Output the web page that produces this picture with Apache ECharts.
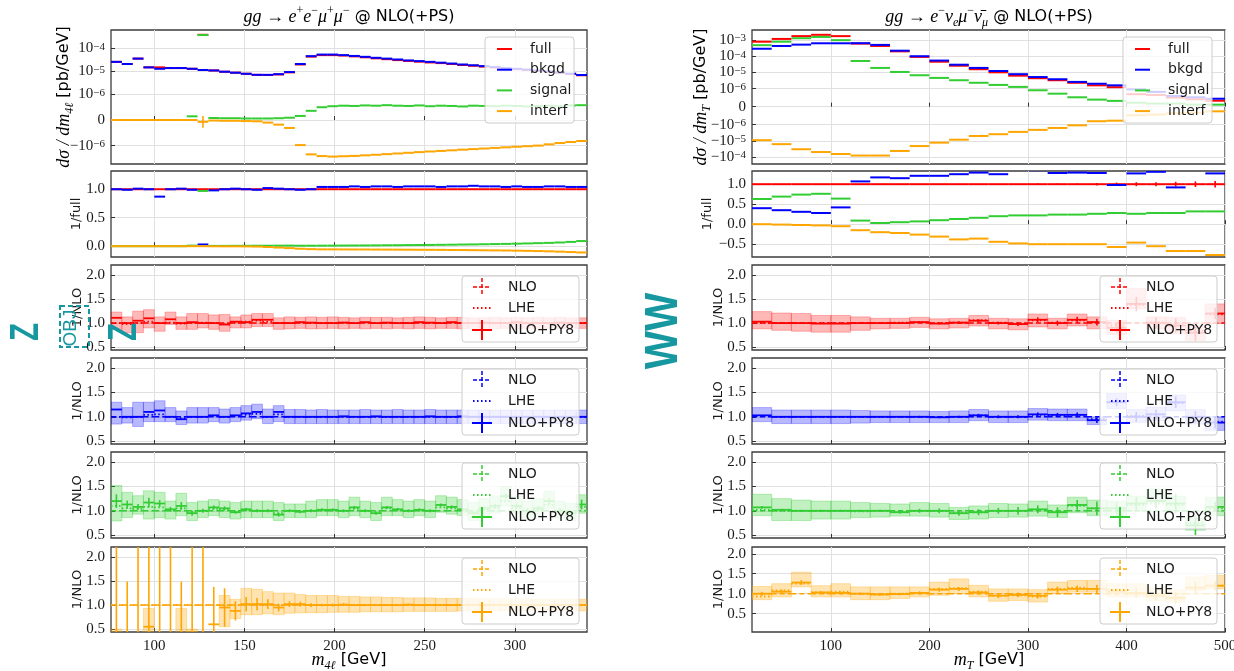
<!DOCTYPE html>
<html>
<head>
<meta charset="utf-8">
<title>gg NLO(+PS) distributions</title>
<script src="https://cdn.jsdelivr.net/npm/echarts@6/dist/echarts.min.js"></script>
<style>
html, body { margin: 0; padding: 0; background: #fff; }
#chart { width: 1234px; height: 671px; }
</style>
</head>
<body>
<div id="chart"></div>
<script>
// ---------------- data: ZZ (left column), 6 GeV bins in m_4l ----------------
const zzEdges = [76, 82, 88, 94, 100, 106, 112, 118, 124, 130, 136, 142, 148, 154, 160, 166, 172, 178, 184, 190, 196, 202, 208,
  214, 220, 226, 232, 238, 244, 250, 256, 262, 268, 274, 280, 286, 292, 298, 304, 310, 316, 322, 328, 334, 340];
const zzXTicks = [100, 150, 200, 250, 300];
const zzYTicks = [1e-4, 1e-5, 1e-6, 0, -1e-6];

const zzFull = [2.6e-5, 2.1e-5, 3.6e-5, 1.5e-5, 1.5e-5, 1.4e-5, 1.4e-5, 1.3e-5, 3.9e-4, 1.1e-5, 9.7e-6,
  8.8e-6, 7.9e-6, 7.1e-6, 7.0e-6, 7.4e-6, 9.1e-6, 2.0e-5, 4.4e-5, 5.1e-5, 5.1e-5, 4.9e-5,
  4.5e-5, 4.1e-5, 3.7e-5, 3.4e-5, 3.1e-5, 2.85e-5, 2.65e-5, 2.45e-5, 2.3e-5, 2.1e-5, 1.9e-5,
  1.76e-5, 1.62e-5, 1.47e-5, 1.33e-5, 1.24e-5, 1.15e-5, 1.05e-5, 9.6e-6, 8.6e-6, 7.7e-6, 6.8e-6];
const zzBkgd = [2.6e-5, 2.1e-5, 3.6e-5, 1.5e-5, 1.3e-5, 1.4e-5, 1.4e-5, 1.3e-5, 1.15e-5, 1.1e-5, 9.7e-6,
  8.8e-6, 7.9e-6, 7.1e-6, 7.1e-6, 7.6e-6, 9.4e-6, 2.1e-5, 4.6e-5, 5.4e-5, 5.4e-5, 5.1e-5,
  4.7e-5, 4.3e-5, 3.9e-5, 3.6e-5, 3.3e-5, 3.0e-5, 2.8e-5, 2.6e-5, 2.4e-5, 2.2e-5, 2.0e-5,
  1.85e-5, 1.7e-5, 1.55e-5, 1.4e-5, 1.3e-5, 1.2e-5, 1.1e-5, 1.0e-5, 9.0e-6, 8.0e-6, 7.0e-6];
const zzSignal = [0, 0, 0, 0, 0, 0, 0, 1.45e-7, 3.8e-4, 8e-8, 7e-8,
  7e-8, 6e-8, 6e-8, 6e-8, 7e-8, 9e-8, 1.6e-7, 3.6e-7, 5.0e-7, 5.4e-7, 5.6e-7,
  5.5e-7, 5.7e-7, 5.6e-7, 5.8e-7, 5.6e-7, 5.5e-7, 5.7e-7, 5.4e-7, 5.6e-7, 5.5e-7, 5.3e-7,
  5.6e-7, 5.5e-7, 5.4e-7, 5.6e-7, 5.5e-7, 5.3e-7, 5.5e-7, 5.6e-7, 5.4e-7, 5.7e-7, 5.8e-7];
const zzInterf = [0, 0, 0, 0, 0, 0, 0, 0, -7e-8, -2e-8, -3e-8,
  -3e-8, -4e-8, -5e-8, -1.0e-7, -1.8e-7, -3.1e-7, -9.8e-7, -2.4e-6, -2.85e-6, -3.0e-6, -2.9e-6,
  -2.8e-6, -2.65e-6, -2.5e-6, -2.35e-6, -2.2e-6, -2.05e-6, -1.92e-6, -1.8e-6, -1.7e-6, -1.6e-6, -1.5e-6,
  -1.42e-6, -1.34e-6, -1.26e-6, -1.19e-6, -1.12e-6, -1.06e-6, -1.0e-6, -0.95e-6, -0.9e-6, -0.86e-6, -0.82e-6];
const zzInterfErr = [0, 0, 0, 0, 0, 0, 0, 0, 2.3e-7, 0, 0,
  0, 0, 0, 0, 0, 0, 0, 0, 0, 0, 0,
  0, 0, 0, 0, 0, 0, 0, 0, 0, 0, 0,
  0, 0, 0, 0, 0, 0, 0, 0, 0, 0, 0];

// ratios to full
const zzOnes = [1, 1, 1, 1, 1, 1, 1, 1, 1, 1, 1,
  1, 1, 1, 1, 1, 1, 1, 1, 1, 1, 1,
  1, 1, 1, 1, 1, 1, 1, 1, 1, 1, 1,
  1, 1, 1, 1, 1, 1, 1, 1, 1, 1, 1];
const zzRBkgd = [1.00, 0.99, 1.01, 1.00, 0.87, 1.00, 1.01, 0.99, 0.03, 0.98, 1.00,
  1.01, 1.00, 0.99, 1.02, 1.01, 1.00, 0.99, 1.00, 1.04, 1.04, 1.04,
  1.05, 1.04, 1.05, 1.05, 1.04, 1.05, 1.05, 1.05, 1.04, 1.05, 1.05,
  1.06, 1.05, 1.05, 1.04, 1.05, 1.04, 1.04, 1.05, 1.05, 1.04, 1.04];
const zzRSignal = [0, 0, 0, 0, 0, 0, 0, 0.01, 0.97, 0.005, 0.005,
  0.006, 0.007, 0.008, 0.008, 0.009, 0.01, 0.008, 0.008, 0.009, 0.01, 0.011,
  0.012, 0.013, 0.014, 0.016, 0.017, 0.019, 0.02, 0.022, 0.024, 0.026, 0.029,
  0.031, 0.034, 0.037, 0.04, 0.044, 0.048, 0.053, 0.058, 0.065, 0.075, 0.09];
const zzRInterf = [0, 0, 0, 0, 0, 0, 0, 0, 0, -0.002, -0.003,
  -0.003, -0.004, -0.007, -0.014, -0.024, -0.034, -0.045, -0.052, -0.056, -0.056, -0.057,
  -0.058, -0.058, -0.059, -0.06, -0.061, -0.062, -0.063, -0.064, -0.065, -0.067, -0.068,
  -0.07, -0.072, -0.074, -0.076, -0.079, -0.082, -0.086, -0.09, -0.096, -0.103, -0.11];

// ratios to NLO: full
const zzRedPy8 = [1.11, 1.0, 1.05, 1.1, 1.0, 1.08, 1.0, 1.02, 1.0, 1.0, 0.97,
  1.03, 1.02, 1.07, 1.07, 1.0, 1.0, 1.02, 1.01, 1.0, 1.0, 1.01,
  1.0, 1.02, 1.0, 1.01, 1.0, 1.0, 1.02, 1.01, 1.0, 1.02, 1.0,
  1.0, 1.01, 1.0, 1.0, 1.02, 1.0, 1.0, 1.0, 1.01, 1.0, 1.0];
const zzRedHi = [1.23, 1.13, 1.25, 1.28, 1.13, 1.23, 1.13, 1.2, 1.2, 1.17, 1.18,
  1.13, 1.17, 1.2, 1.2, 1.11, 1.13, 1.12, 1.13, 1.12, 1.13, 1.12,
  1.11, 1.12, 1.12, 1.12, 1.11, 1.12, 1.13, 1.12, 1.11, 1.12, 1.12,
  1.11, 1.11, 1.12, 1.11, 1.12, 1.11, 1.12, 1.11, 1.12, 1.11, 1.11];
const zzRedLo = [0.87, 0.8, 0.8, 0.9, 0.83, 0.97, 0.87, 0.87, 0.9, 0.87, 0.83,
  0.9, 0.9, 0.93, 0.93, 0.87, 0.88, 0.89, 0.88, 0.88, 0.89, 0.88,
  0.89, 0.88, 0.89, 0.88, 0.89, 0.88, 0.89, 0.88, 0.89, 0.89, 0.88,
  0.89, 0.89, 0.88, 0.89, 0.88, 0.89, 0.88, 0.89, 0.88, 0.89, 0.89];
const zzRedLhe = [1.0, 0.98, 1.0, 1.03, 1.0, 1.01, 0.99, 1.0, 1.01, 1.0, 0.98,
  1.01, 1.03, 1.05, 1.03, 1.0, 1.0, 1.01, 1.0, 1.0, 1.0, 1.01,
  1.0, 1.01, 1.0, 1.0, 1.0, 1.0, 1.01, 1.0, 1.0, 1.01, 1.0,
  1.0, 1.0, 1.0, 1.0, 1.01, 1.0, 1.0, 1.0, 1.0, 1.0, 1.0];
// bkgd
const zzBluePy8 = [1.15, 1.0, 1.0, 1.1, 1.13, 1.0, 0.95, 1.0, 1.0, 1.03, 1.0,
  1.03, 1.07, 1.1, 1.0, 1.1, 1.0, 1.0, 1.0, 1.0, 1.0, 1.01,
  1.0, 1.0, 1.01, 1.0, 1.0, 1.0, 1.0, 1.01, 1.0, 1.0, 1.01,
  1.0, 1.0, 1.0, 1.0, 1.0, 1.0, 1.0, 1.0, 1.0, 1.0, 1.0];
const zzBlueHi = [1.3, 1.19, 1.3, 1.3, 1.33, 1.19, 1.12, 1.19, 1.19, 1.19, 1.16,
  1.19, 1.23, 1.26, 1.16, 1.23, 1.15, 1.15, 1.14, 1.15, 1.14, 1.14,
  1.14, 1.15, 1.14, 1.14, 1.15, 1.14, 1.14, 1.15, 1.14, 1.14, 1.14,
  1.14, 1.14, 1.14, 1.14, 1.14, 1.14, 1.14, 1.14, 1.14, 1.14, 1.14];
const zzBlueLo = [0.85, 0.87, 0.8, 0.9, 0.9, 0.9, 0.84, 0.87, 0.87, 0.9, 0.87,
  0.9, 0.93, 0.96, 0.86, 0.9, 0.86, 0.86, 0.86, 0.86, 0.86, 0.86,
  0.86, 0.86, 0.86, 0.86, 0.86, 0.86, 0.86, 0.86, 0.86, 0.86, 0.86,
  0.86, 0.86, 0.86, 0.86, 0.86, 0.86, 0.86, 0.86, 0.86, 0.86, 0.86];
const zzBlueLhe = [1.0, 0.99, 1.0, 1.04, 1.05, 1.0, 0.97, 1.0, 1.0, 1.02, 1.0,
  1.02, 1.04, 1.06, 1.0, 1.05, 1.0, 1.0, 1.0, 1.0, 1.0, 1.0,
  1.0, 1.0, 1.0, 1.0, 1.0, 1.0, 1.0, 1.0, 1.0, 1.0, 1.0,
  1.0, 1.0, 1.0, 1.0, 1.0, 1.0, 1.0, 1.0, 1.0, 1.0, 1.0];
// signal
const zzGreenPy8 = [1.2, 1.13, 1.08, 1.17, 1.15, 1.03, 1.1, 0.95, 1.0, 1.07, 1.05,
  0.97, 1.03, 1.0, 1.0, 0.92, 1.0, 0.98, 1.0, 1.02, 1.02, 1.0,
  1.07, 1.0, 0.95, 1.07, 1.03, 1.0, 1.02, 1.0, 1.12, 1.08, 1.03,
  0.95, 1.05, 1.1, 1.3, 1.1, 1.0, 1.05, 1.2, 1.0, 0.95, 1.13];
const zzGreenHi = [1.52, 1.38, 1.31, 1.41, 1.38, 1.2, 1.36, 1.17, 1.2, 1.23, 1.2,
  1.17, 1.2, 1.2, 1.2, 1.17, 1.14, 1.14, 1.2, 1.23, 1.23, 1.2,
  1.28, 1.2, 1.17, 1.28, 1.23, 1.2, 1.23, 1.2, 1.31, 1.28, 1.23,
  1.17, 1.25, 1.3, 1.5, 1.3, 1.2, 1.25, 1.4, 1.2, 1.15, 1.33];
const zzGreenLo = [0.79, 0.86, 0.93, 0.83, 0.86, 0.83, 0.9, 0.8, 0.86, 0.9, 0.86,
  0.83, 0.86, 0.86, 0.86, 0.8, 0.86, 0.86, 0.86, 0.9, 0.9, 0.86,
  0.9, 0.86, 0.8, 0.9, 0.9, 0.86, 0.9, 0.86, 0.97, 0.93, 0.9,
  0.8, 0.9, 0.95, 1.1, 0.95, 0.85, 0.9, 1.05, 0.85, 0.8, 0.95];
const zzGreenErr = [0.14, 0.08, 0.06, 0.1, 0.07, 0.05, 0.08, 0.05, 0.04, 0.04, 0.04,
  0.03, 0.03, 0.03, 0.03, 0.04, 0.03, 0.03, 0.03, 0.03, 0.03, 0.03,
  0.03, 0.03, 0.03, 0.03, 0.03, 0.03, 0.03, 0.03, 0.03, 0.03, 0.03,
  0.03, 0.04, 0.04, 0.05, 0.05, 0.05, 0.05, 0.06, 0.06, 0.06, 0.1];
const zzGreenLhe = [1.1, 1.05, 1.04, 1.08, 1.07, 1.02, 1.05, 0.97, 1.0, 1.04, 1.03,
  0.98, 1.02, 1.0, 1.0, 0.95, 1.0, 0.99, 1.0, 1.01, 1.01, 1.0,
  1.04, 1.0, 0.97, 1.05, 1.02, 1.0, 1.01, 1.0, 1.07, 1.05, 1.02,
  0.97, 1.03, 1.06, 1.2, 1.06, 1.0, 1.03, 1.12, 1.0, 0.97, 1.08];
// interference
const zzOrangePy8 = [0.3, 0.35, 0.2, 0.55, 0.3, 0.2, 0.35, 0.43, 0.3, 0.6, 0.95,
  0.88, 1.02, 1.02, 1.02, 0.95, 1.02, 1.02, 1.0, 1.0, 1.0, 1.01,
  1.0, 1.0, 1.0, 1.0, 1.0, 1.01, 1.0, 1.0, 1.0, 1.0, 1.0,
  1.0, 1.0, 1.0, 1.0, 1.0, 1.0, 1.0, 1.0, 1.0, 1.0, 1.0];
const zzOrangeErr = [3.0, 1.14, 3.0, 3.0, 3.0, 3.0, 1.14, 3.0, 3.0, 0.78, 0.4,
  0.2, 0.15, 0.13, 0.1, 0.08, 0.06, 0.05, 0.04, 0.03, 0.03, 0.03,
  0.02, 0.02, 0.02, 0.02, 0.02, 0.02, 0.02, 0.02, 0.02, 0.02, 0.02,
  0.02, 0.02, 0.02, 0.02, 0.02, 0.02, 0.02, 0.02, 0.02, 0.02, 0.02];
const zzOrangeHi = [0.5, 0.3, 0.3, 0.93, 0.3, 0.3, 0.93, 0.5, 0.3, 0.3, 1.2,
  1.12, 1.35, 1.33, 1.28, 1.25, 1.25, 1.22, 1.2, 1.2, 1.2, 1.18,
  1.18, 1.17, 1.17, 1.16, 1.16, 1.15, 1.15, 1.15, 1.14, 1.14, 1.14,
  1.14, 1.13, 1.13, 1.13, 1.13, 1.13, 1.12, 1.12, 1.12, 1.12, 1.12];
const zzOrangeLo = [0.0, 0.0, 0.0, 0.0, 0.0, 0.0, 0.0, 0.0, 0.0, 0.0, 0.55,
  0.72, 0.8, 0.8, 0.82, 0.8, 0.83, 0.84, 0.84, 0.84, 0.85, 0.85,
  0.85, 0.86, 0.86, 0.86, 0.86, 0.87, 0.87, 0.87, 0.87, 0.87, 0.88,
  0.88, 0.88, 0.88, 0.88, 0.88, 0.88, 0.88, 0.88, 0.88, 0.88, 0.88];
const zzOrangeLhe = [1.0, 1.0, 1.0, 1.0, 1.0, 1.0, 1.0, 1.0, 1.0, 1.0, 1.0,
  1.0, 1.01, 1.01, 1.0, 1.0, 1.01, 1.01, 1.0, 1.0, 1.0, 1.0,
  1.0, 1.0, 1.0, 1.0, 1.0, 1.0, 1.0, 1.0, 1.0, 1.0, 1.0,
  1.0, 1.0, 1.0, 1.0, 1.0, 1.0, 1.0, 1.0, 1.0, 1.0, 1.0];

// ---------------- data: WW (right column), 20 GeV bins in m_T ----------------
const wwEdges = [20, 40, 60, 80, 100, 120, 140, 160, 180, 200, 220, 240, 260, 280, 300, 320, 340, 360, 380, 400, 420, 440, 460, 480, 500];
const wwXTicks = [100, 200, 300, 400, 500];
const wwYTicks = [1e-3, 1e-4, 1e-5, 1e-6, 0, -1e-6, -1e-5, -1e-4];

const wwFull = [7.9e-4, 1.17e-3, 1.74e-3, 2.1e-3, 1.74e-3, 6.0e-4, 4.3e-4, 2.0e-4, 9.1e-5, 4.6e-5, 2.6e-5, 1.58e-5,
  1.02e-5, 6.3e-6, 4.4e-6, 3.3e-6, 2.3e-6, 1.6e-6, 1.23e-6, 6.9e-7, 6.5e-7, 5.0e-7, 4.1e-7, 3.3e-7];
const wwBkgd = [2.9e-4, 4.3e-4, 5.2e-4, 6.3e-4, 6.3e-4, 6.4e-4, 5.0e-4, 2.2e-4, 1.0e-4, 5.4e-5, 3.0e-5, 1.9e-5,
  1.23e-5, 7.8e-6, 5.2e-6, 3.8e-6, 2.6e-6, 2.0e-6, 1.6e-6, 9.6e-7, 8.2e-7, 5.9e-7, 5.2e-7, 4.4e-7];
const wwSignal = [4.8e-4, 7.9e-4, 1.29e-3, 1.55e-3, 9.8e-4, 5.1e-5, 1.9e-5, 1.07e-5, 6.7e-6, 4.6e-6, 3.3e-6, 2.3e-6,
  1.7e-6, 1.28e-6, 9.1e-7, 7.2e-7, 5.2e-7, 3.9e-7, 3.2e-7, 2.2e-7, 1.7e-7, 1.7e-7, 1.1e-7, 1.1e-7];
const wwInterf = [-9.1e-6, -1.6e-5, -3.3e-5, -4.9e-5, -6.5e-5, -8.1e-5, -8.1e-5, -4.2e-5, -2.1e-5, -1.29e-5, -8.5e-6, -5.0e-6,
  -3.9e-6, -2.8e-6, -2.1e-6, -1.6e-6, -1.1e-6, -8.1e-7, -7.8e-7, -4.8e-7, -4.4e-7, -3.7e-7, -3.3e-7, -2.6e-7];

const wwOnes = [1, 1, 1, 1, 1, 1, 1, 1, 1, 1, 1, 1,
  1, 1, 1, 1, 1, 1, 1, 1, 1, 1, 1, 1];
const wwRFullErr = [0, 0, 0, 0, 0, 0, 0, 0, 0, 0, 0, 0,
  0, 0.01, 0.02, 0.02, 0.02, 0.03, 0.04, 0.05, 0.05, 0.06, 0.07, 0.08];
const wwRBkgd = [0.4, 0.35, 0.31, 0.28, 0.42, 1.07, 1.17, 1.15, 1.21, 1.21, 1.25, 1.29,
  1.25, 1.36, 1.35, 1.28, 1.29, 1.28, 0.98, 1.27, 1.31, 0.92, 1.36, 1.27];
const wwRSignal = [0.63, 0.69, 0.74, 0.76, 0.64, 0.09, 0.03, 0.05, 0.07, 0.1, 0.13, 0.16,
  0.2, 0.22, 0.22, 0.24, 0.24, 0.26, 0.28, 0.26, 0.28, 0.28, 0.32, 0.32];
const wwRInterf = [0.0, -0.01, -0.02, -0.03, -0.05, -0.15, -0.2, -0.22, -0.26, -0.31, -0.38, -0.36,
  -0.44, -0.48, -0.5, -0.5, -0.5, -0.5, -0.57, -0.46, -0.55, -0.67, -0.67, -0.77];

const wwRedPy8 = [1.03, 1.0, 1.0, 0.99, 0.99, 1.0, 1.0, 1.0, 1.02, 0.99, 1.01, 1.05,
  1.0, 0.98, 1.07, 1.0, 1.07, 1.02, 0.9, 1.4, 1.0, 0.95, 0.8, 1.2];
const wwRedHi = [1.24, 1.21, 1.2, 1.16, 1.16, 1.13, 1.1, 1.1, 1.12, 1.09, 1.1, 1.16,
  1.1, 1.09, 1.19, 1.1, 1.19, 1.13, 1.06, 1.72, 1.13, 1.12, 0.95, 1.4];
const wwRedLo = [0.88, 0.85, 0.83, 0.81, 0.81, 0.85, 0.88, 0.89, 0.91, 0.88, 0.9, 0.94,
  0.88, 0.86, 0.92, 0.88, 0.94, 0.88, 0.76, 1.3, 0.88, 0.78, 0.64, 0.99];
const wwRedErr = [0.01, 0.01, 0.01, 0.01, 0.01, 0.01, 0.01, 0.01, 0.02, 0.02, 0.03, 0.03,
  0.03, 0.04, 0.05, 0.05, 0.06, 0.07, 0.1, 0.15, 0.12, 0.15, 0.18, 0.12];
const wwRedLhe = [1.0, 1.0, 1.0, 1.0, 1.0, 1.0, 1.0, 1.01, 1.02, 1.0, 1.01, 1.06,
  1.01, 0.99, 1.06, 1.01, 1.06, 1.02, 0.95, 1.38, 1.02, 0.95, 0.85, 1.18];

const wwBluePy8 = [1.03, 1.0, 1.0, 1.0, 1.0, 1.0, 1.0, 1.0, 1.0, 0.99, 1.0, 1.03,
  1.0, 1.0, 1.05, 1.04, 1.04, 0.93, 1.3, 1.0, 1.05, 1.3, 1.0, 0.88];
const wwBlueHi = [1.19, 1.14, 1.14, 1.14, 1.14, 1.13, 1.12, 1.12, 1.12, 1.11, 1.12, 1.15,
  1.12, 1.12, 1.17, 1.16, 1.16, 1.0, 1.48, 1.15, 1.2, 1.45, 1.15, 1.0];
const wwBlueLo = [0.9, 0.86, 0.86, 0.86, 0.86, 0.87, 0.88, 0.88, 0.88, 0.88, 0.88, 0.92,
  0.88, 0.88, 0.93, 0.92, 0.92, 0.84, 1.17, 0.88, 0.92, 1.12, 0.85, 0.72];
const wwBlueErr = [0.01, 0.01, 0.01, 0.01, 0.01, 0.01, 0.01, 0.01, 0.02, 0.02, 0.02, 0.03,
  0.03, 0.03, 0.04, 0.04, 0.05, 0.06, 0.08, 0.1, 0.1, 0.12, 0.12, 0.12];
const wwBlueLhe = [1.02, 1.0, 1.0, 1.0, 1.0, 1.0, 1.0, 1.0, 1.0, 1.0, 1.0, 1.03,
  1.0, 1.0, 1.04, 1.03, 1.04, 0.95, 1.3, 1.02, 1.05, 1.28, 1.0, 0.9];

const wwGreenPy8 = [1.07, 1.02, 1.0, 1.0, 1.0, 1.0, 1.0, 0.97, 1.0, 1.0, 0.95, 0.97,
  1.0, 1.0, 1.03, 0.97, 1.12, 1.05, 1.05, 1.15, 1.2, 1.15, 0.7, 1.08];
const wwGreenHi = [1.34, 1.25, 1.22, 1.2, 1.2, 1.17, 1.15, 1.14, 1.17, 1.15, 1.07, 1.1,
  1.15, 1.14, 1.2, 1.12, 1.28, 1.22, 1.2, 1.3, 1.45, 1.3, 0.85, 1.28];
const wwGreenLo = [0.9, 0.8, 0.8, 0.83, 0.83, 0.86, 0.87, 0.89, 0.89, 0.87, 0.82, 0.83,
  0.86, 0.87, 0.89, 0.86, 0.96, 0.9, 0.9, 1.0, 1.2, 1.0, 0.6, 0.9];
const wwGreenErr = [0.03, 0.02, 0.02, 0.02, 0.02, 0.02, 0.02, 0.03, 0.04, 0.05, 0.05, 0.06,
  0.06, 0.08, 0.08, 0.1, 0.1, 0.14, 0.12, 0.14, 0.15, 0.2, 0.2, 0.1];
const wwGreenLhe = [1.02, 1.0, 1.0, 1.0, 1.0, 0.99, 1.0, 0.98, 1.0, 1.0, 0.96, 0.97,
  1.0, 1.0, 1.02, 0.98, 1.1, 1.05, 1.05, 1.12, 1.15, 1.12, 0.75, 1.05];

const wwOrangePy8 = [1.0, 1.05, 1.28, 1.03, 1.02, 1.0, 0.98, 0.99, 1.02, 1.1, 1.12, 1.03,
  0.95, 0.97, 0.95, 1.1, 1.12, 1.12, 1.05, 1.02, 0.95, 0.9, 1.15, 1.2];
const wwOrangeHi = [1.18, 1.25, 1.54, 1.2, 1.25, 1.17, 1.17, 1.17, 1.17, 1.29, 1.37, 1.21,
  1.12, 1.12, 1.1, 1.29, 1.33, 1.33, 1.25, 1.25, 1.17, 1.1, 1.42, 1.46];
const wwOrangeLo = [0.85, 0.92, 1.17, 0.92, 0.92, 0.85, 0.85, 0.88, 0.92, 0.96, 1.0, 0.92,
  0.81, 0.83, 0.79, 1.0, 1.04, 1.04, 0.92, 0.92, 0.83, 0.79, 1.08, 1.12];
const wwOrangeErr = [0.05, 0.05, 0.06, 0.04, 0.04, 0.03, 0.03, 0.03, 0.04, 0.05, 0.05, 0.05,
  0.06, 0.06, 0.07, 0.08, 0.08, 0.1, 0.1, 0.12, 0.12, 0.15, 0.15, 0.12];
const wwOrangeLhe = [0.93, 1.08, 1.25, 1.03, 1.05, 1.0, 0.98, 1.0, 1.02, 1.12, 1.14, 1.05,
  0.95, 0.96, 0.93, 1.12, 1.15, 1.12, 1.05, 1.0, 0.95, 0.88, 1.15, 1.2];

const ratioTicks = [0.5, 1.0, 1.5, 2.0];
const zzFullTicks = [0.0, 0.5, 1.0];
const wwFullTicks = [-0.5, 0.0, 0.5, 1.0];
const topNames = ['full', 'bkgd', 'signal', 'interf'];
const ratioNames = ['NLO', 'LHE', 'NLO+PY8'];

// ---------------- style ----------------
const SERIF = "'Liberation Serif', 'DejaVu Serif', serif";
const SANS = "'DejaVu Sans', 'Liberation Sans', sans-serif";
const RED = '#ff0000', BLUE = '#0000ff', GREEN = '#32cd32', ORANGE = '#ffa500';
const TEAL = '#1798a0';
const GRIDC = '#e0e0e0';
const TXT = '#1a1a1a';
const BAND = {};
BAND[RED] = ['rgba(255,0,0,0.28)', 'rgba(255,0,0,0.25)'];
BAND[BLUE] = ['rgba(0,0,255,0.28)', 'rgba(0,0,255,0.25)'];
BAND[GREEN] = ['rgba(50,205,50,0.3)', 'rgba(50,205,50,0.3)'];
BAND[ORANGE] = ['rgba(255,165,0,0.3)', 'rgba(255,165,0,0.3)'];

const COLS = [{ left: 111, width: 476 }, { left: 752, width: 473 }];
const ROWS = [
  { top: 30, height: 134 }, { top: 171, height: 86 }, { top: 265, height: 85 },
  { top: 358, height: 86 }, { top: 452, height: 86 }, { top: 547, height: 85 }
];

// symmetric log (linthresh 1e-6, matplotlib-like linear part)
const LT = 1e-6, LS = 1 / 0.9;
function symlog(v) {
  const a = Math.abs(v);
  if (a <= LT) return v / LT * LS;
  return Math.sign(v) * (LS + Math.log10(a / LT));
}

function stepSeries(gi, edges, vals, color, o) {
  o = o || {};
  const tf = o.tf || (v => v);
  const err = o.err;
  const data = vals.map((v, i) => {
    const e = err ? err[i] : 0;
    return [edges[i], edges[i + 1], tf(v), tf(v - e), tf(v + e)];
  });
  const w = o.width || 2;
  return {
    type: 'custom', xAxisIndex: gi, yAxisIndex: gi, clip: true, silent: true, z: o.z || 3,
    data: data,
    encode: { x: [0, 1], y: 2 },
    renderItem: function (params, api) {
      const x0 = api.value(0), x1 = api.value(1), y = api.value(2);
      const a = api.coord([x0, y]), b = api.coord([x1, y]);
      const kids = [{
        type: 'line', shape: { x1: a[0], y1: a[1], x2: b[0], y2: b[1] },
        style: { stroke: color, lineWidth: w, lineDash: o.dash || null }
      }];
      if (err) {
        const xm = (x0 + x1) / 2;
        const lo = api.coord([xm, api.value(3)]), hi = api.coord([xm, api.value(4)]);
        if (Math.abs(lo[1] - hi[1]) > 1.5) {
          kids.push({
            type: 'line', shape: { x1: lo[0], y1: lo[1], x2: hi[0], y2: hi[1] },
            style: { stroke: color, lineWidth: 1.6 }
          });
        }
      }
      return { type: 'group', children: kids };
    }
  };
}

function bandSeries(gi, edges, lo, hi, color) {
  const data = lo.map((l, i) => [edges[i], edges[i + 1], l, hi[i]]);
  return {
    type: 'custom', xAxisIndex: gi, yAxisIndex: gi, clip: true, silent: true, z: 2,
    data: data,
    encode: { x: [0, 1], y: [2, 3] },
    renderItem: function (params, api) {
      const a = api.coord([api.value(0), api.value(3)]);
      const b = api.coord([api.value(1), api.value(2)]);
      return {
        type: 'rect',
        shape: { x: a[0], y: a[1], width: b[0] - a[0], height: b[1] - a[1] },
        style: { fill: BAND[color][0], stroke: BAND[color][1], lineWidth: 1 }
      };
    }
  };
}

function ratioPanel(gi, edges, ones, py8, lo, hi, lhe, err, color) {
  return [
    bandSeries(gi, edges, lo, hi, color),
    stepSeries(gi, edges, ones, color, { dash: [5, 3], width: 1.5 }),
    stepSeries(gi, edges, lhe, color, { dash: [1.5, 2.5], width: 1.8 }),
    stepSeries(gi, edges, py8, color, { err: err, width: 1.8, z: 4 })
  ];
}

function symLabel(ticks) {
  return function (val) {
    const t = ticks.find(t => Math.abs(symlog(t) - val) < 1e-6);
    if (t === undefined) return '';
    if (t === 0) return '{n|0}';
    const e = Math.round(-Math.log10(Math.abs(t)));
    return '{n|' + (t < 0 ? '\u221210' : '10') + '}{e|\u2212' + e + '}';
  };
}
const fmtDec = v => v.toFixed(1).replace('-', '\u2212');

// ---------------- build option ----------------
const grids = [], xAxes = [], yAxes = [], series = [], graphics = [];

COLS.forEach((c, ci) => ROWS.forEach((r, ri) => {
  const gi = ci * 6 + ri;
  grids.push({
    left: c.left, top: r.top, width: c.width, height: r.height, show: true,
    backgroundColor: '#fff', borderColor: '#3d3d3d', borderWidth: 1.3, containLabel: false, outerBoundsMode: 'none'
  });
  const xt = ci ? wwXTicks : zzXTicks;
  xAxes.push({
    gridIndex: gi, type: 'value', min: ci ? 20 : 76, max: ci ? 500 : 340,
    axisLine: { show: false },
    axisTick: { show: true, inside: true, length: 4, customValues: xt, lineStyle: { color: '#333' } },
    axisLabel: {
      show: ri === 5, customValues: xt, fontFamily: SERIF, fontSize: 15, color: TXT, margin: 7,
      showMinLabel: true, showMaxLabel: true, hideOverlap: false
    },
    splitLine: { show: true, lineStyle: { color: GRIDC, width: 1 } }
  });
  let ymin, ymax, yt, fmt, rich;
  if (ri === 0) {
    const tv = ci ? wwYTicks : zzYTicks;
    ymin = ci ? -3.54 : -1.91; ymax = ci ? 4.73 : 3.91;
    yt = tv.map(symlog); fmt = symLabel(tv);
    rich = {
      n: { fontFamily: SERIF, fontSize: 15, lineHeight: 14, color: TXT },
      e: { fontFamily: SERIF, fontSize: 11, lineHeight: 8, verticalAlign: 'top', color: TXT }
    };
  } else if (ri === 1) {
    ymin = ci ? -0.82 : -0.19; ymax = ci ? 1.33 : 1.32;
    yt = ci ? wwFullTicks : zzFullTicks; fmt = fmtDec;
  } else {
    ymin = (ci === 1 && ri === 5) ? 0.04 : 0.44; ymax = (ci === 1 && ri === 5) ? 2.17 : 2.21;
    yt = ratioTicks; fmt = fmtDec;
  }
  yAxes.push({
    gridIndex: gi, type: 'value', min: ymin, max: ymax,
    axisLine: { show: false },
    axisTick: { show: true, inside: true, length: 4, customValues: yt, lineStyle: { color: '#333' } },
    axisLabel: {
      customValues: yt, formatter: fmt, rich: rich, fontFamily: SERIF, fontSize: 15, color: TXT, margin: 6,
      showMinLabel: true, showMaxLabel: true, hideOverlap: false
    },
    splitLine: { show: true, lineStyle: { color: GRIDC, width: 1 } }
  });
}));

// top panels
series.push(stepSeries(0, zzEdges, zzFull, RED, { tf: symlog }));
series.push(stepSeries(0, zzEdges, zzBkgd, BLUE, { tf: symlog }));
series.push(stepSeries(0, zzEdges, zzSignal, GREEN, { tf: symlog }));
series.push(stepSeries(0, zzEdges, zzInterf, ORANGE, { tf: symlog, err: zzInterfErr }));
series.push(stepSeries(6, wwEdges, wwFull, RED, { tf: symlog }));
series.push(stepSeries(6, wwEdges, wwBkgd, BLUE, { tf: symlog }));
series.push(stepSeries(6, wwEdges, wwSignal, GREEN, { tf: symlog }));
series.push(stepSeries(6, wwEdges, wwInterf, ORANGE, { tf: symlog }));
// ratio to full
series.push(stepSeries(1, zzEdges, zzOnes, RED));
series.push(stepSeries(1, zzEdges, zzRBkgd, BLUE));
series.push(stepSeries(1, zzEdges, zzRSignal, GREEN));
series.push(stepSeries(1, zzEdges, zzRInterf, ORANGE));
series.push(stepSeries(7, wwEdges, wwOnes, RED, { err: wwRFullErr }));
series.push(stepSeries(7, wwEdges, wwRBkgd, BLUE));
series.push(stepSeries(7, wwEdges, wwRSignal, GREEN));
series.push(stepSeries(7, wwEdges, wwRInterf, ORANGE));
// ratio to NLO
series.push(...ratioPanel(2, zzEdges, zzOnes, zzRedPy8, zzRedLo, zzRedHi, zzRedLhe, null, RED));
series.push(...ratioPanel(3, zzEdges, zzOnes, zzBluePy8, zzBlueLo, zzBlueHi, zzBlueLhe, null, BLUE));
series.push(...ratioPanel(4, zzEdges, zzOnes, zzGreenPy8, zzGreenLo, zzGreenHi, zzGreenLhe, zzGreenErr, GREEN));
series.push(...ratioPanel(5, zzEdges, zzOnes, zzOrangePy8, zzOrangeLo, zzOrangeHi, zzOrangeLhe, zzOrangeErr, ORANGE));
series.push(...ratioPanel(8, wwEdges, wwOnes, wwRedPy8, wwRedLo, wwRedHi, wwRedLhe, wwRedErr, RED));
series.push(...ratioPanel(9, wwEdges, wwOnes, wwBluePy8, wwBlueLo, wwBlueHi, wwBlueLhe, wwBlueErr, BLUE));
series.push(...ratioPanel(10, wwEdges, wwOnes, wwGreenPy8, wwGreenLo, wwGreenHi, wwGreenLhe, wwGreenErr, GREEN));
series.push(...ratioPanel(11, wwEdges, wwOnes, wwOrangePy8, wwOrangeLo, wwOrangeHi, wwOrangeLhe, wwOrangeErr, ORANGE));

// ---------------- text: titles, axis names ----------------
const mathRich = {
  m: { fontFamily: SERIF, fontStyle: 'italic', fontSize: 18, lineHeight: 24, color: TXT },
  r: { fontFamily: SERIF, fontSize: 18, lineHeight: 24, color: TXT },
  sp: { fontFamily: SERIF, fontSize: 12, lineHeight: 12, verticalAlign: 'top', color: TXT },
  sb: { fontFamily: SERIF, fontStyle: 'italic', fontSize: 12, lineHeight: 12, verticalAlign: 'bottom', color: TXT },
  t: { fontFamily: SANS, fontSize: 16, lineHeight: 24, color: TXT }
};
function richText(x, y, text, rot) {
  return {
    type: 'text', x: x, y: y, rotation: rot || 0, z: 50, silent: true,
    style: { text: text, rich: mathRich, align: 'center', verticalAlign: 'middle' }
  };
}
graphics.push(richText(349, 17, '{m|gg}{r| \u2192 }{m|e}{sp|+}{m|e}{sp|\u2212}{m|\u03bc}{sp|+}{m|\u03bc}{sp|\u2212}{t| @ NLO(+PS)}'));
graphics.push(richText(989, 17, '{m|gg}{r| \u2192 }{m|e}{sp|\u2212}{m|\u03bd}{sb|e}{m|\u03bc}{sp|\u2212}{m|\u03bd\u0304}{sb|\u03bc}{t| @ NLO(+PS)}'));
graphics.push(richText(349, 660, '{m|m}{sb|4\u2113}{t| [GeV]}'));
graphics.push(richText(989, 660, '{m|m}{sb|T}{t| [GeV]}'));
graphics.push(richText(64, 97, '{m|d\u03c3 / dm}{sb|4\u2113}{t| [pb/GeV]}', Math.PI / 2));
graphics.push(richText(701, 97, '{m|d\u03c3 / dm}{sb|T}{t| [pb/GeV]}', Math.PI / 2));

const nameX = [[null, 77, 78, 78, 78, 78], [null, 708, 719, 719, 719, 719]];
const nameTxt = [null, '1/full', '1/NLO', '1/NLO', '1/NLO', '1/NLO'];
COLS.forEach((c, ci) => ROWS.forEach((r, ri) => {
  if (ri === 0) return;
  graphics.push({
    type: 'text', x: nameX[ci][ri], y: r.top + r.height / 2, rotation: Math.PI / 2, z: 50, silent: true,
    style: { text: nameTxt[ri], fontFamily: SANS, fontSize: 13, fill: TXT, align: 'center', verticalAlign: 'middle' }
  });
}));

// ---------------- legends ----------------
function topLegend(ci) {
  const c = COLS[ci], r = ROWS[0];
  const x0 = c.left + c.width - 13 - 89, y0 = r.top + 7;
  graphics.push({
    type: 'rect', z: 100, silent: true, shape: { x: x0, y: y0, width: 89, height: 86, r: 3 },
    style: { fill: 'rgba(255,255,255,0.8)', stroke: '#cccccc', lineWidth: 1 }
  });
  [RED, BLUE, GREEN, ORANGE].forEach((col, k) => {
    const yy = y0 + 12 + k * 20.7;
    graphics.push({
      type: 'line', z: 101, silent: true, shape: { x1: x0 + 12, y1: yy, x2: x0 + 27, y2: yy },
      style: { stroke: col, lineWidth: 2 }
    });
    graphics.push({
      type: 'text', z: 101, silent: true, x: x0 + 45, y: yy,
      style: { text: topNames[k], fontFamily: SANS, fontSize: 14, fill: TXT, align: 'left', verticalAlign: 'middle' }
    });
  });
}
function ratioLegend(ci, ri, col) {
  const c = COLS[ci], r = ROWS[ri];
  const x0 = c.left + c.width - 8 - 117, y0 = r.top + 11;
  const ln = (x1, y1, x2, y2, w, dash) => graphics.push({
    type: 'line', z: 101, silent: true, shape: { x1: x0 + x1, y1: y0 + y1, x2: x0 + x2, y2: y0 + y2 },
    style: { stroke: col, lineWidth: w, lineDash: dash || null }
  });
  graphics.push({
    type: 'rect', z: 100, silent: true, shape: { x: x0, y: y0, width: 117, height: 66, r: 3 },
    style: { fill: 'rgba(255,255,255,0.8)', stroke: '#cccccc', lineWidth: 1 }
  });
  const ys = [11, 32, 54];
  ln(11, ys[0], 29, ys[0], 1.5, [4, 2]);
  ln(20, ys[0] - 9, 20, ys[0] + 9, 1.5, [4, 2]);
  ln(11, ys[1], 29, ys[1], 2, [1.5, 2.5]);
  ln(10, ys[2], 30, ys[2], 2);
  ln(20, ys[2] - 10, 20, ys[2] + 10, 2);
  ratioNames.forEach((t, k) => graphics.push({
    type: 'text', z: 101, silent: true, x: x0 + 46, y: y0 + ys[k],
    style: { text: t, fontFamily: SANS, fontSize: 14, fill: TXT, align: 'left', verticalAlign: 'middle' }
  }));
}
topLegend(0); topLegend(1);
[0, 1].forEach(ci => [RED, BLUE, GREEN, ORANGE].forEach((col, k) => ratioLegend(ci, k + 2, col)));

// ---------------- teal labels ----------------
const bigFont = "'Liberation Sans', 'DejaVu Sans', sans-serif";
[27, 125].forEach(x => graphics.push({
  type: 'text', x: x, y: 332, rotation: Math.PI / 2, scaleX: 0.72, z: 200, silent: true,
  style: { text: 'Z', fontFamily: bigFont, fontSize: 41, fontWeight: 'bold', fill: TEAL, align: 'center', verticalAlign: 'middle' }
}));
graphics.push({
  type: 'rect', z: 200, silent: true, shape: { x: 60, y: 306, width: 29, height: 41 },
  style: { fill: 'none', stroke: TEAL, lineWidth: 2, lineDash: [5, 3] }
});
graphics.push({
  type: 'text', x: 71, y: 328, rotation: Math.PI / 2, z: 200, silent: true,
  style: { text: 'OBJ', fontFamily: bigFont, fontSize: 19, fill: TEAL, align: 'center', verticalAlign: 'middle' }
});
graphics.push({
  type: 'text', x: 664, y: 331, rotation: Math.PI / 2, scaleX: 0.88, z: 200, silent: true,
  style: { text: 'WW', fontFamily: bigFont, fontSize: 46, fontWeight: 'bold', fill: TEAL, align: 'center', verticalAlign: 'middle' }
});

const chart = echarts.init(document.getElementById('chart'));
chart.setOption({
  animation: false,
  backgroundColor: '#fff',
  grid: grids,
  xAxis: xAxes,
  yAxis: yAxes,
  series: series,
  graphic: { elements: graphics }
});
window.addEventListener('resize', () => chart.resize());
</script>
</body>
</html>
